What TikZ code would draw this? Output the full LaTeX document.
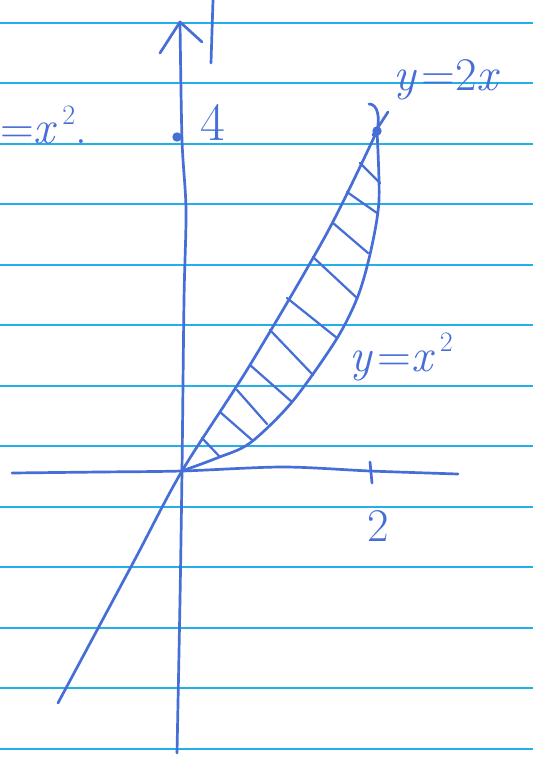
\documentclass[tikz,border=0pt]{standalone}
\usepackage{fontspec}
\definecolor{inkblue}{RGB}{70,110,215}
\definecolor{ruleblue}{RGB}{35,175,235}
\newcommand{\vr}[1]{\textit{#1}\kern0.1em}
\newcommand{\sq}{\raisebox{0.42em}{\fontsize{24}{26}\selectfont 2}}
\tikzset{
  ink/.style={draw=inkblue,line width=2.3pt,line cap=round,line join=round},
  ruleln/.style={draw=ruleblue,line width=1.7pt},
  hatch/.style={ink,line width=1.9pt},
  inkdot/.style={circle,fill=inkblue,inner sep=0pt,minimum size=8pt},
  lbl/.style={text=inkblue,inner sep=0pt,font=\fontsize{40}{42}\selectfont}
}

\begin{document}
\begin{tikzpicture}[x=0.03cm,y=-0.03cm]
  \fill[white] (0,0) rectangle (533,765);
  \useasboundingbox (0,0) rectangle (533,765);
  \foreach \h in {23,83,144,204,265,325,386,446,507,567,628,688,749}
    \draw[ruleln] (0,\h) -- (533,\h);

  \coordinate (O) at (182,471);
  \coordinate (ytip) at (180,22);
  \coordinate (ybot) at (177,753);
  \coordinate (xl) at (12,473);
  \coordinate (xr) at (458,474);
  \coordinate (P) at (377,131);
  \coordinate (lnend) at (58,703);

  \draw[ink] plot[smooth] coordinates {(ybot) (180,600) (O) (184,300) (186,210) (182,140) (ytip)};
  \draw[ink] (160,53) -- (ytip) -- (202,42);
  \draw[ink] (213,0) -- (211,63);
  \draw[ink] plot[smooth] coordinates {(xl) (100,472) (O) (283,467) (370,471) (xr)};
  \draw[ink] (370,462) -- (372,483);

  \draw[ink] plot[smooth] coordinates {(lnend) (133,563) (O) (250,365) (327,233) (P)};
  \draw[ink] plot[smooth] coordinates {(O) (217,458) (250,443) (292,402) (336,340) (358,296) (371,250) (379,200) (P)};
  \draw[ink] (P) .. controls (380,118) and (378,104) .. (369,104);
  \draw[ink] (388,112) -- (373,135);

  \foreach \a/\b/\c/\d in {202/438/220/457, 220/412/252/440, 237/390/267/424, 250/365/292/402,
      270/330/313/375, 287/298/337/338, 313/257/357/298, 333/223/368/253, 347/192/377/213, 360/163/380/183}
    \draw[hatch] (\a,\b) -- (\c,\d);

  \node[inkdot] (dotfour) at (177,137) {};
  \node[inkdot] (dotP) at (P) {};
  \node[lbl,font=\fontsize{46}{48}\selectfont] (lblfour) at (213,122) {4};
  \node[lbl] (lbltwo) at (378,526) {2};
  \node[lbl] (lbltwox) at (449,80) {\vr{y}=2\vr{x}};
  \node[lbl] (lblsq) at (401,357) {\vr{y}=\vr{x}\sq};
  \node[lbl,anchor=west] (lblleft) at (0,125) {=\vr{x}\sq.};
\end{tikzpicture}
\end{document}
